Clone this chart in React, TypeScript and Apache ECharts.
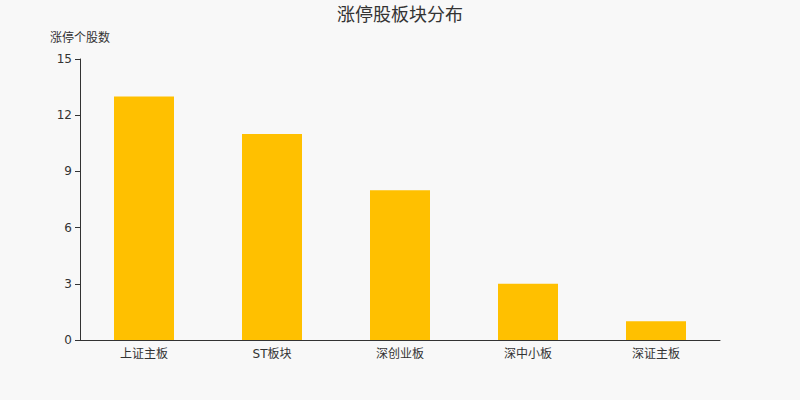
import React, { useEffect, useRef } from "react";
import * as echarts from "echarts";

const categories = ["上证主板", "ST板块", "深创业板", "深中小板", "深证主板"];
const values = [13, 11, 8, 3, 1];
const yTicks = { min: 0, max: 15, interval: 3 };

export default function App() {
  const ref = useRef<HTMLDivElement>(null);
  useEffect(() => {
    document.body.style.margin = "0";
    const chart = echarts.init(ref.current!, null, { renderer: "svg" });
    chart.setOption({
      animation: false,
      backgroundColor: "#f8f8f8",
      textStyle: { fontFamily: "DejaVu Sans, Noto Sans CJK SC, sans-serif" },
      title: {
        text: "涨停股板块分布",
        left: "center",
        top: 0,
        textStyle: { fontSize: 18, fontWeight: "normal", color: "#333" },
      },
      grid: { left: 80, right: 80, top: 59, bottom: 60, containLabel: false },
      xAxis: {
        type: "category",
        data: categories,
        axisLine: { lineStyle: { color: "#333" } },
        axisTick: { lineStyle: { color: "#333" } },
        axisLabel: { color: "#333", fontSize: 12, margin: 8 },
      },
      yAxis: {
        type: "value",
        name: "涨停个股数",
        nameTextStyle: { color: "#333", fontSize: 12, align: "center" },
        min: yTicks.min,
        max: yTicks.max,
        interval: yTicks.interval,
        axisLine: { show: true, lineStyle: { color: "#333" } },
        axisTick: { show: true, lineStyle: { color: "#333" } },
        axisLabel: { color: "#333", fontSize: 12 },
        splitLine: { show: false },
      },
      series: [
        {
          type: "bar",
          data: values,
          barWidth: 60,
          itemStyle: { color: "#ffc000" },
        },
      ],
    });
    return () => chart.dispose();
  }, []);
  return <div ref={ref} style={{ width: 800, height: 400 }} />;
}
